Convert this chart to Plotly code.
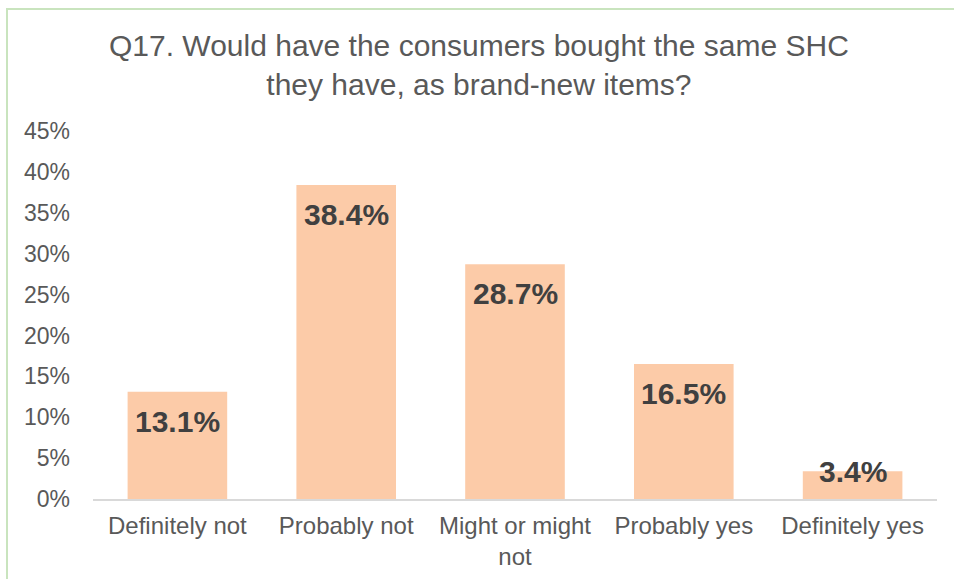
import plotly.graph_objects as go

categories = ["Definitely not", "Probably not", "Might or might<br>not", "Probably yes", "Definitely yes"]
values = [0.131, 0.384, 0.287, 0.165, 0.034]
labels = ["13.1%", "38.4%", "28.7%", "16.5%", "3.4%"]
tick_vals = [0, 0.05, 0.10, 0.15, 0.20, 0.25, 0.30, 0.35, 0.40, 0.45]
tick_text = ["0%", "5%", "10%", "15%", "20%", "25%", "30%", "35%", "40%", "45%"]

FONT = "Arial, Liberation Sans, sans-serif"

fig = go.Figure()
fig.add_trace(go.Bar(x=categories, y=values, marker=dict(color="#FCCBA8", line=dict(width=0)),
                     hoverinfo="skip"))

for c, v, t in zip(categories, values, labels):
    small = v < 0.06
    fig.add_annotation(x=c, y=v, text="<b>" + t + "</b>", showarrow=False,
                       xref="x", yref="y",
                       yanchor="middle" if small else "top",
                       yshift=0 if small else -11,
                       font=dict(family=FONT, size=30, color="#404040"))

fig.add_annotation(text="Q17. Would have the consumers bought the same SHC<br>they have, as brand-new items?",
                   xref="paper", yref="paper", x=(479 - 93) / 844, y=(499 - 65) / 368,
                   xanchor="center", yanchor="middle", showarrow=False,
                   font=dict(family=FONT, size=30, color="#595959"))

fig.add_shape(type="rect", xref="paper", yref="paper",
              x0=-(93 - 7) / 844, x1=1 + 25 / 844, y0=-(85) / 368, y1=1 + (131 - 9) / 368,
              line=dict(color="#C9E4BE", width=2), fillcolor="rgba(0,0,0,0)", layer="below")

fig.update_layout(
    width=954, height=579,
    margin=dict(l=93, r=17, t=131, b=80, autoexpand=False),
    paper_bgcolor="white", plot_bgcolor="white",
    bargap=0.41,
    showlegend=False,
    font=dict(family=FONT, color="#595959"),
    xaxis=dict(showline=True, linecolor="#D9D9D9", linewidth=2, ticks="", automargin=False,
               tickfont=dict(size=24, color="#595959"), showgrid=False, ticklabelstandoff=4),
    yaxis=dict(range=[0, 0.45], tickvals=tick_vals, ticktext=tick_text, showgrid=False,
               automargin=False,
               zeroline=False, showline=False, ticks="", ticklabelstandoff=22,
               tickfont=dict(size=23, color="#595959")),
)

fig.write_html("out.html")
